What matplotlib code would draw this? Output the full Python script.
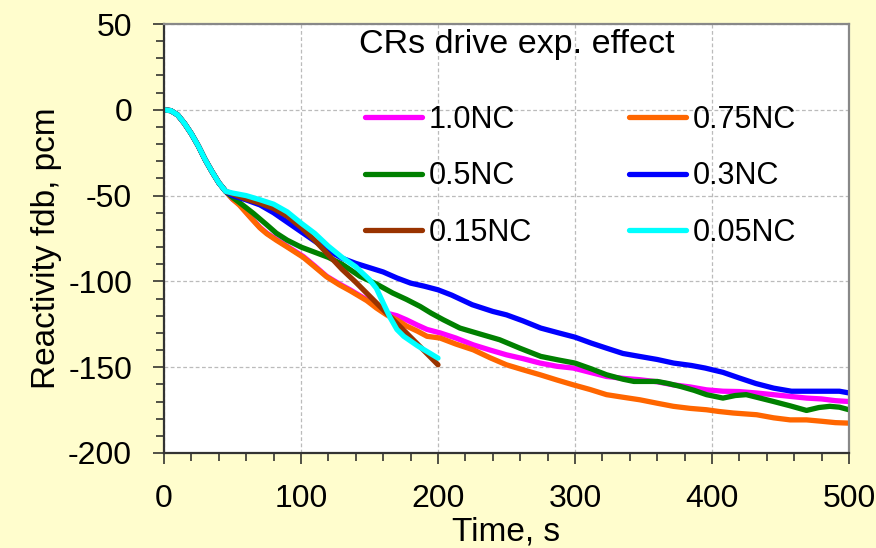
import matplotlib
matplotlib.use("Agg")
import matplotlib.pyplot as plt
from matplotlib.ticker import MultipleLocator
from matplotlib.lines import Line2D

plt.rcParams['font.family'] = ['Liberation Sans', 'DejaVu Sans']
plt.rcParams['axes.unicode_minus'] = False

# ---- data ----
t_common = [0, 5, 10, 15, 20, 25, 30, 35, 40, 45]
v_common = [0, -0.5, -3, -8, -14, -21, -29, -36, -42.5, -47.5]

t_10 = [50, 55, 62.8, 70, 75, 82, 90, 101.7, 110, 118.7, 128, 136, 148, 155, 162.5, 170, 177,
        185, 192, 201.5, 213, 225.8, 238, 250, 262, 274.5, 287, 298.8, 311, 323, 335, 347.4,
        360, 371.8, 384, 396, 408, 420, 432, 444.7, 457, 469, 480, 490, 500]
v_10 = [-52, -55, -62.2, -68.5, -71.9, -75.5, -79.6, -85.5, -91, -97, -101.5, -105, -110.7,
        -114.5, -118.5, -120, -122.4, -125.5, -128, -130, -133, -137, -140, -142.8, -145,
        -147.6, -149.5, -150.5, -153, -155.4, -156.5, -157.3, -158.5, -160.3, -161.5, -163.2,
        -164, -164.2, -165, -166, -167, -168, -168.5, -169.5, -170]

t_075 = [50, 55, 62.8, 70, 75, 82, 90, 101.7, 110, 118.7, 128, 136, 148, 155, 162.5, 170, 177,
         185, 192, 201.5, 213, 225.8, 238, 250, 262, 274.5, 287, 298.8, 311, 323, 335, 347.4,
         360, 371.8, 384, 396, 405, 415.5, 432.6, 445, 457, 469, 480, 490, 500]
v_075 = [-52, -55.5, -62.5, -68.8, -72.2, -76, -80, -86, -91.5, -97.3, -102, -105.5, -111.2,
         -115.5, -119.5, -122.5, -126, -129, -132, -133, -136.5, -139.9, -144.5, -148.6, -151.5,
         -154.4, -157.5, -160.3, -163, -166, -167.5, -169, -171, -172.8, -174, -174.8, -175.8,
         -176.7, -177.7, -179.5, -180.7, -180.7, -181.5, -182.3, -182.6]

t_05 = [50, 55, 65, 75, 82, 90, 100, 110, 120, 130, 143, 155, 167, 177, 187, 195, 204, 216,
        230, 245, 260, 275, 288, 300, 312, 323, 335, 343, 352, 360, 368, 377, 387, 396, 408,
        417, 425, 435, 445, 457, 469, 478, 486, 493, 500]
v_05 = [-51, -54, -60.2, -67, -71.9, -76, -80, -83, -86, -90, -97, -101.5, -106.8, -110.5,
        -114.6, -118.5, -122.4, -127.2, -130.5, -134, -139, -143.7, -145.8, -147.6, -151,
        -154.4, -157, -158.3, -158.3, -158.3, -159.5, -161.2, -163.5, -166, -168, -166.5,
        -166, -168, -170, -172.5, -175.2, -173.5, -172.8, -173.3, -174.8]

t_03 = [50, 60, 70, 80, 90, 100, 110, 120, 130, 140, 150, 160, 170, 180, 190, 200, 210, 225,
        240, 250, 262, 275, 288, 300, 312, 323, 335, 347, 360, 372, 385, 395, 408, 420, 432,
        445, 458, 470, 482, 493, 500]
v_03 = [-50, -52.5, -55.4, -60, -65.5, -71, -76.5, -82, -86.5, -89.5, -92, -94.5, -98, -101,
        -102.8, -104.9, -108, -113.6, -117.5, -119.5, -123, -127.2, -130, -132.5, -136,
        -138.9, -142, -143.7, -145.5, -147.6, -149, -150.5, -153, -156.3, -159.5, -162.2,
        -164, -164, -164, -164, -165]

t_015 = [50, 60, 70, 80, 90, 100, 110, 120, 130, 140, 150, 160, 170, 180, 190, 200]
v_015 = [-49, -52, -54.4, -57.5, -62, -68.5, -76, -84.5, -93, -100.5, -108.5, -116.5, -124.5,
         -132.5, -140.5, -148.6]

t_005 = [50, 60, 70, 80, 90, 100, 110, 120, 130, 140, 150, 155, 160, 165, 170, 175, 185, 200]
v_005 = [-48.5, -50, -52.4, -55, -59.5, -66, -72, -79.5, -86, -91.5, -99, -104, -112.6, -121,
         -128, -132, -137.5, -144.7]

labels = ['1.0NC', '0.75NC', '0.5NC', '0.3NC', '0.15NC', '0.05NC']
colors = ['#FF00FF', '#FF6600', '#008000', '#0000FF', '#993300', '#00FFFF']
series = [(t_10, v_10), (t_075, v_075), (t_05, v_05), (t_03, v_03), (t_015, v_015), (t_005, v_005)]

x_ticks = [0, 100, 200, 300, 400, 500]
y_ticks = [-200, -150, -100, -50, 0, 50]

bg = '#FFFDCD'
fig = plt.figure(figsize=(8.76, 5.48), dpi=100, facecolor=bg)
ax = fig.add_axes([164/876, 1-453/548, (849-164)/876, (453-24)/548])
ax.set_facecolor('white')

for (t, v), c, lab in zip(series, colors, labels):
    ax.plot(t_common + t, v_common + v, color=c, lw=3.8, solid_capstyle='round',
            solid_joinstyle='round', label=lab)

ax.set_xlim(0, 500)
ax.set_ylim(-200, 50)
ax.set_xticks(x_ticks)
ax.set_yticks(y_ticks)
ax.xaxis.set_minor_locator(MultipleLocator(20))
ax.yaxis.set_minor_locator(MultipleLocator(10))
ax.tick_params(which='major', direction='out', length=8, width=1.1, labelsize=23, pad=15,
               color='#222222')
ax.tick_params(which='minor', direction='out', length=6, width=1.1, color='#222222')
ax.tick_params(axis='x', which='major', pad=14)
ax.tick_params(top=False, right=False, which='both')

ax.grid(True, which='major', color='#BBBBBB', lw=0.9, linestyle=(0, (3, 2)))
ax.set_axisbelow(True)

for s in ['left', 'bottom']:
    ax.spines[s].set_color('#333333')
    ax.spines[s].set_linewidth(1.6)
for s in ['top', 'right']:
    ax.spines[s].set_color('#888888')
    ax.spines[s].set_linewidth(1.6)

ax.set_xlabel('Time, s', fontsize=24, labelpad=2)
ax.set_ylabel('Reactivity fdb, pcm', fontsize=24)
ax.yaxis.set_label_coords(-0.149, 0.478)

ax.text(517/876, 1-45/548, 'CRs drive exp. effect', transform=fig.transFigure,
        ha='center', va='center', fontsize=24.5)

order = [0, 2, 4, 1, 3, 5]
leg_handles = [Line2D([], [], color=colors[i], lw=3.8, solid_capstyle='round') for i in order]
ax.legend(leg_handles, [labels[i] for i in order], ncol=2, frameon=False,
          fontsize=22, handlelength=1.85, handletextpad=0.22, columnspacing=3.2,
          labelspacing=0.86, borderpad=0, borderaxespad=0,
          loc='upper left', bbox_to_anchor=(365/876, 1-105/548),
          bbox_transform=fig.transFigure)

fig.savefig('out.png', dpi=100, facecolor=bg)
